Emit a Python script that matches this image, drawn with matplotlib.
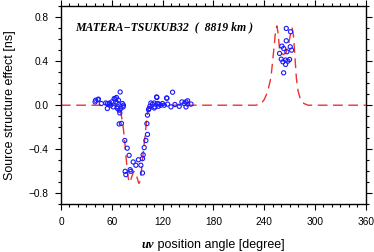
import matplotlib as mpl
mpl.use('Agg')
import matplotlib.pyplot as plt
from matplotlib.ticker import MultipleLocator

# model curve (red dashed)
curve_deg = [0, 60, 66, 69, 71, 73, 75, 77, 79, 80.5, 82, 84, 86, 88, 90, 92, 93.5,
             95, 97, 99, 101, 103, 106, 110, 115, 230, 236, 240, 244, 248, 250, 252,
             253.5, 255, 256.5, 258, 260, 263, 266, 269, 271.5, 273, 274.5, 276, 278,
             280, 283, 287, 292, 360]
curve_val = [0, 0, -0.005, -0.03, -0.08, -0.17, -0.3, -0.48, -0.64, -0.7, -0.69, -0.64,
             -0.6, -0.61, -0.66, -0.71, -0.69, -0.6, -0.44, -0.3, -0.15, -0.04, -0.01,
             -0.003, 0, 0, 0.01, 0.05, 0.12, 0.25, 0.4, 0.55, 0.68, 0.72, 0.65, 0.52,
             0.47, 0.46, 0.48, 0.56, 0.66, 0.7, 0.64, 0.48, 0.25, 0.13, 0.05, 0.015, 0, 0]

# observed points (blue circles)
obs_deg = [40.3, 41, 43.8, 44.2, 47.7, 52.9, 54.8, 54.9, 56.8, 57.6, 58.8, 60, 61.6,
           62.8, 64, 64.7, 65.5, 66.3, 66.7, 67.1, 67.9, 68.7, 69.5, 69.9, 70.7, 72.6,
           73.4, 73.8,
           68.7, 71.4, 75.4, 75.8, 76.6, 78.2, 80.5, 81.7, 82.5, 85.3, 88.5, 91.5, 94.4,
           96.3, 96.3, 97.1, 98.3, 100.3, 101.5, 102.2, 102.2,
           103.4, 104.2, 105, 106.2, 108.1, 110.1, 110.1, 111, 112.9, 113.3, 114.1,
           115.2, 116, 118, 120, 122, 124.7, 125.2, 125.9, 129.9, 131.8, 134.6, 139.7,
           142.9, 145.6, 147.7, 147.7, 149.6, 149.6, 153.6,
           258.2, 260.2, 260.9, 262.1, 263, 263, 265.3, 265.3, 266.1, 266.1, 266.8,
           268, 270, 270.8, 271.2, 272.4]
obs_val = [0.03, 0.045, 0.05, 0.055, 0.015, 0.02, -0.03, 0.015, 0.01, 0.02, 0.0, 0.03,
           -0.015, 0.06, 0.06, 0.03, 0.07, 0.02, -0.03, -0.015, 0.045, -0.045, -0.07,
           0.12, -0.03, 0.015, -0.015, 0.0,
           -0.17, -0.165, -0.32, -0.6, -0.63, -0.39, -0.455, -0.585, -0.6, -0.515,
           -0.545, -0.495, -0.545, -0.485, -0.615, -0.45, -0.385, -0.32, -0.167, -0.265,
           -0.09,
           -0.04, -0.03, -0.01, 0.02, 0.01, 0.02, -0.025, -0.015, 0.075, 0.07, 0.015,
           -0.01, 0.01, 0.0, 0.015, 0.0, 0.065, 0.064, 0.01, -0.015, 0.118, 0.006, -0.01,
           0.03, 0.015, 0.03, -0.015, 0.01, 0.04, 0.01,
           0.47, 0.418, 0.536, 0.394, 0.515, 0.294, 0.37, 0.41, 0.697, 0.585, 0.485,
           0.4, 0.415, 0.53, 0.667, 0.5]

title = u'MATERA\u2212TSUKUB32  (  8819 km )'

plt.rcParams['font.family'] = ['Liberation Sans', 'DejaVu Sans']

fig = plt.figure(figsize=(3.74, 2.52), dpi=100)
ax = fig.add_axes([0.163, 0.189, 0.815, 0.787])

ax.plot(curve_deg, curve_val, color='#f03030', lw=1.0, dashes=(7, 4), zorder=2)
ax.scatter(obs_deg, obs_val, s=9, facecolors='none', edgecolors='#1a1aff',
           linewidths=0.8, zorder=3)

ax.set_xlim(0, 360)
ax.set_ylim(-0.9, 0.9)
ax.xaxis.set_major_locator(MultipleLocator(60))
ax.xaxis.set_minor_locator(MultipleLocator(10))
ax.yaxis.set_minor_locator(MultipleLocator(0.1))
ax.set_yticks([-0.8, -0.4, 0.0, 0.4, 0.8])
ax.set_yticklabels([u'\u22120.8', u'\u22120.4', '0.0', '0.4', '0.8'])
ax.tick_params(which='both', direction='out', top=True, right=True,
               labelsize=7.3, width=0.8, pad=4.5)
ax.tick_params(which='major', length=4.5)
ax.tick_params(which='minor', length=2.3)
for s in ax.spines.values():
    s.set_linewidth(1.0)

ax.text(0.045, 0.895, title, transform=ax.transAxes, family='Liberation Serif',
        fontsize=8.5, fontweight='bold', fontstyle='italic', va='center')

ax.set_ylabel('Source structure effect [ns]', fontsize=9)
ax.yaxis.set_label_coords(-0.148, 0.5)

t = fig.text(0.378, 0.016, 'uv', family='Liberation Serif', fontsize=9,
             fontweight='bold', fontstyle='italic', va='baseline')
ax.annotate(' position angle [degree]', xy=(1, 0), xycoords=t, va='bottom',
            fontsize=9)

plt.savefig('out.png', dpi=100)
plt.close()
